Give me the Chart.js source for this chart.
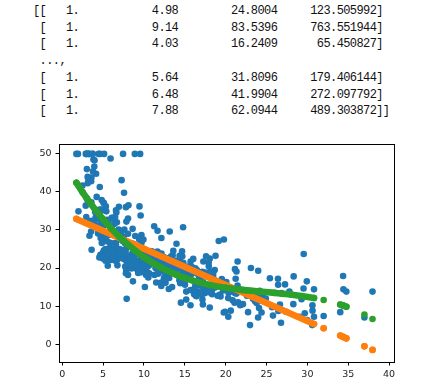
<!DOCTYPE html>
<html>
<head>
<meta charset="utf-8">
<script src="https://cdn.jsdelivr.net/npm/chart.js@4/dist/chart.umd.min.js"></script>
<style>
  body { margin: 0; background: #fff; width: 446px; height: 386px; overflow: hidden; }
  #matrix {
    position: absolute; left: 33px; top: 3px; margin: 0;
    font-family: "Liberation Mono", "DejaVu Sans Mono", monospace;
    font-size: 12px; letter-spacing: -0.6px; line-height: 16.7px; color: #111;
  }
  #wrap { position: absolute; left: 0; top: 130px; width: 446px; height: 256px; }
</style>
</head>
<body>
<pre id="matrix"></pre>
<div id="wrap"><canvas id="chart" width="446" height="256"></canvas></div>
<script>
// rows of the printed design matrix
const matrixRows = [
  ["1.", "4.98", "24.8004", "123.505992"],
  ["1.", "9.14", "83.5396", "763.551944"],
  ["1.", "4.03", "16.2409", "65.450827"],
  null,
  ["1.", "5.64", "31.8096", "179.406144"],
  ["1.", "6.48", "41.9904", "272.097792"],
  ["1.", "7.88", "62.0944", "489.303872"]
];

// lstat, medv
const housePoints = [
[4.98,24.0],[9.14,21.6],[4.03,34.7],[2.94,33.4],[5.33,36.2],[5.21,28.7],[12.43,22.9],[19.15,27.1],[29.93,16.5],[17.1,18.9],
[20.45,15.0],[13.27,18.9],[15.71,21.7],[8.26,20.4],[10.26,18.2],[8.47,19.9],[6.58,23.1],[14.67,17.5],[11.69,20.2],[11.28,18.2],
[21.02,13.6],[13.83,19.6],[18.72,15.2],[19.88,14.5],[16.3,15.6],[16.51,13.9],[14.81,16.6],[17.28,14.8],[12.8,18.4],[11.98,21.0],
[22.6,12.7],[13.04,14.5],[27.71,13.2],[18.35,13.1],[20.34,13.5],[9.68,18.9],[11.41,20.0],[8.77,21.0],[10.13,24.7],[4.32,30.8],
[1.98,34.9],[4.84,26.6],[5.81,25.3],[7.44,24.7],[9.55,21.2],[10.21,19.3],[14.15,20.0],[18.8,16.6],[30.81,14.4],[16.2,19.4],
[13.45,19.7],[9.43,20.5],[5.28,25.0],[8.43,23.4],[14.8,18.9],[4.81,35.4],[5.77,24.7],[3.95,31.6],[6.86,23.3],[9.22,19.6],
[13.15,18.7],[14.44,16.0],[6.73,22.2],[9.5,25.0],[8.05,33.0],[4.67,23.5],[10.24,19.4],[8.1,22.0],[13.09,17.4],[8.79,20.9],
[6.72,24.2],[9.88,21.7],[5.52,22.8],[7.54,23.4],[6.78,24.1],[8.94,21.4],[11.97,20.0],[10.27,20.8],[12.34,21.2],[9.1,20.3],
[5.29,28.0],[7.22,23.9],[6.72,24.8],[7.51,22.9],[9.62,23.9],[6.53,26.6],[12.86,22.5],[8.44,22.2],[5.5,23.6],[5.7,28.7],
[8.81,22.6],[8.2,22.0],[8.16,22.9],[6.21,25.0],[10.59,20.6],[6.65,28.4],[11.34,21.4],[4.21,38.7],[3.57,43.8],[6.19,33.2],
[9.42,27.5],[7.67,26.5],[10.63,18.6],[13.44,19.3],[12.33,20.1],[16.47,19.5],[18.66,19.5],[14.09,20.4],[12.27,19.8],[15.55,19.4],
[13.0,21.7],[10.16,22.8],[16.21,18.8],[17.09,18.7],[10.45,18.5],[15.76,18.3],[12.04,21.2],[10.3,19.2],[15.37,20.4],[13.61,19.3],
[14.37,22.0],[14.27,20.3],[17.93,20.5],[25.41,17.3],[17.58,18.8],[14.81,21.4],[27.26,15.7],[17.19,16.2],[15.39,18.0],[18.34,14.3],
[12.6,19.2],[12.26,19.6],[11.12,23.0],[15.03,18.4],[17.31,15.6],[16.96,18.1],[16.9,17.4],[14.59,17.1],[21.32,13.3],[18.46,17.8],
[24.16,14.0],[34.41,14.4],[26.82,13.4],[26.42,15.6],[29.29,11.8],[27.8,13.8],[16.65,15.6],[29.53,14.6],[28.32,17.8],[21.45,15.4],
[14.1,21.5],[13.28,19.6],[12.12,15.3],[15.79,19.4],[15.12,17.0],[15.02,15.6],[16.14,13.1],[4.59,41.3],[6.43,24.3],[7.39,23.3],
[5.5,27.0],[1.73,50.0],[1.92,50.0],[3.32,50.0],[11.64,22.7],[9.81,25.0],[3.7,50.0],[12.14,23.8],[11.1,23.8],[11.32,22.3],
[14.43,17.4],[12.03,19.1],[14.69,23.1],[9.04,23.6],[9.64,22.6],[5.33,29.4],[10.11,23.2],[6.29,24.6],[6.92,29.9],[5.04,37.2],
[7.56,39.8],[9.45,36.2],[4.82,37.9],[5.68,32.5],[13.98,26.4],[13.15,29.6],[4.45,50.0],[6.68,32.0],[4.56,29.8],[5.39,34.9],
[5.1,37.0],[4.69,30.5],[2.87,36.4],[5.03,31.1],[4.38,29.1],[2.97,50.0],[4.08,33.3],[8.61,30.3],[6.62,34.6],[4.56,34.9],
[4.45,32.9],[7.43,24.1],[3.11,42.3],[3.81,48.5],[2.88,50.0],[10.87,22.6],[10.97,24.4],[18.06,22.5],[14.66,24.4],[23.09,20.0],
[17.27,21.7],[23.98,19.3],[16.03,22.4],[9.38,28.1],[29.55,23.7],[9.47,25.0],[13.51,23.3],[9.69,28.7],[17.92,21.5],[10.5,23.0],
[9.71,26.7],[21.46,21.7],[9.93,27.5],[7.6,30.1],[4.14,44.8],[4.63,50.0],[3.13,37.6],[6.36,31.6],[3.92,46.7],[3.76,31.5],
[11.65,24.3],[5.25,31.7],[2.47,41.7],[3.95,48.3],[8.05,29.0],[10.88,24.0],[9.54,25.1],[4.73,31.5],[6.36,23.7],[7.37,23.3],
[11.38,22.0],[12.4,20.1],[11.22,22.2],[5.19,23.7],[12.5,17.6],[18.46,18.5],[9.16,24.3],[10.15,20.5],[9.52,24.5],[6.56,26.2],
[5.9,24.4],[3.59,24.8],[3.53,29.6],[3.54,42.8],[6.57,21.9],[9.25,20.9],[3.11,44.0],[5.12,50.0],[7.79,36.0],[6.9,30.1],
[9.59,33.8],[7.26,43.1],[5.91,48.8],[11.25,31.0],[8.1,36.5],[10.45,22.8],[14.79,30.7],[7.44,50.0],[3.16,43.5],[13.65,20.7],
[13.0,21.1],[6.59,25.2],[7.73,24.4],[6.58,35.2],[3.53,32.4],[2.98,32.0],[6.05,33.2],[4.16,33.1],[7.19,29.1],[4.85,35.1],
[3.76,45.4],[4.59,35.4],[3.01,46.0],[3.16,50.0],[7.85,32.2],[8.23,22.0],[12.93,20.1],[7.14,23.2],[7.6,22.3],[9.51,24.8],
[3.33,28.5],[3.56,37.3],[4.7,27.9],[8.58,23.9],[10.4,21.7],[6.27,28.6],[7.39,27.1],[15.84,20.3],[4.97,22.5],[4.74,29.0],
[6.07,24.8],[9.5,22.0],[8.67,26.4],[4.86,33.1],[6.93,36.1],[8.93,28.4],[6.47,33.4],[7.53,28.2],[4.54,22.8],[9.97,20.3],
[12.64,16.1],[5.98,22.1],[11.72,19.4],[7.9,21.6],[9.28,23.8],[11.5,16.2],[18.33,17.8],[15.94,19.8],[10.36,23.1],[12.73,21.0],
[7.2,23.8],[6.87,23.1],[7.7,20.4],[11.74,18.5],[6.12,25.0],[5.08,24.6],[6.15,23.0],[12.79,22.2],[9.97,19.3],[7.34,22.6],
[9.09,19.8],[12.43,17.1],[7.83,19.4],[5.68,22.2],[6.75,20.7],[8.01,21.1],[9.8,19.5],[10.56,18.5],[8.51,20.6],[9.74,19.0],
[9.29,18.7],[5.49,32.7],[8.65,16.5],[7.18,23.9],[4.61,31.2],[10.53,17.5],[12.67,17.2],[6.36,23.1],[5.99,24.5],[5.89,26.6],
[5.98,22.9],[5.49,24.1],[7.79,18.6],[4.5,30.1],[8.05,18.2],[5.57,20.6],[17.6,17.8],[13.27,21.7],[11.48,22.7],[12.67,22.6],
[7.79,25.0],[14.19,19.9],[10.19,20.8],[14.64,16.8],[5.29,21.9],[7.12,27.5],[14.0,21.9],[13.33,23.1],[3.26,50.0],[3.73,50.0],
[2.96,50.0],[9.53,50.0],[8.88,50.0],[34.77,13.8],[37.97,13.8],[13.44,15.0],[23.24,13.9],[21.24,13.3],[23.69,13.1],[21.78,10.2],
[17.21,10.4],[21.08,10.9],[23.6,11.3],[24.56,12.3],[30.63,8.8],[30.81,7.2],[28.28,10.5],[31.99,7.4],[30.62,10.2],[20.85,11.5],
[17.11,15.1],[18.76,23.2],[25.68,9.7],[15.17,13.8],[16.35,12.7],[17.12,13.1],[19.37,12.5],[19.92,8.5],[30.59,5.0],[29.97,6.3],
[26.77,5.6],[20.32,7.2],[20.31,12.1],[19.77,8.3],[27.38,8.5],[22.98,5.0],[23.34,11.9],[12.13,27.9],[26.4,17.2],[19.78,27.5],
[10.11,15.0],[21.22,17.2],[34.37,17.9],[20.08,16.3],[36.98,7.0],[29.05,7.2],[25.79,7.5],[26.64,10.4],[20.62,8.8],[22.74,8.4],
[15.02,16.7],[15.7,14.2],[14.1,20.8],[23.29,13.4],[17.16,11.7],[24.39,8.3],[15.69,10.2],[14.52,10.9],[21.52,11.0],[24.08,9.5],
[17.64,14.5],[19.69,14.1],[12.03,16.1],[16.22,14.3],[15.17,11.7],[23.27,13.4],[18.05,9.6],[26.45,8.7],[34.02,8.4],[22.88,12.8],
[22.11,10.5],[19.52,17.1],[16.59,18.4],[18.85,15.4],[23.79,10.8],[23.98,11.8],[17.79,14.9],[16.44,12.6],[18.13,14.1],[19.31,13.0],
[17.44,13.4],[17.73,15.2],[17.27,16.1],[16.74,17.8],[18.71,14.9],[18.13,14.1],[19.01,12.7],[16.94,13.5],[16.23,14.9],[14.7,20.0],
[16.42,16.4],[14.65,17.7],[13.99,19.5],[10.29,20.2],[13.22,21.4],[14.13,19.9],[17.15,19.0],[21.32,19.1],[18.13,19.1],[14.76,20.1],
[16.29,19.9],[12.87,19.6],[14.36,23.2],[11.66,29.8],[18.14,13.8],[24.1,13.3],[18.68,16.7],[24.91,12.0],[18.03,14.6],[13.11,21.4],
[10.74,23.0],[7.74,23.7],[7.01,25.0],[10.42,21.8],[13.34,20.6],[10.58,21.2],[14.98,19.1],[11.45,20.6],[18.06,15.2],[23.97,7.0],
[29.68,8.1],[18.07,13.6],[13.35,20.1],[12.01,21.8],[13.59,24.5],[17.6,23.1],[21.14,19.7],[14.1,18.3],[12.92,21.2],[15.1,17.5],
[14.33,16.8],[9.67,22.4],[9.08,20.6],[5.64,23.9],[6.48,22.0],[7.88,11.9]
];

// straight-line fit (null = gap between runs)
const linearFit = [
  [1.73, 32.91], [10, 25.05], [20, 15.55], [30.81, 5.28], [31.4, null],
  [31.99, 4.16], [33.0, null],
  [34.02, 2.24], [34.37, 1.90], [34.41, 1.86], [34.77, 1.52], [35.9, null],
  [36.98, -0.58], [37.5, null],
  [37.97, -1.52]
];

// cubic fit
const cubicFit = [
  [1.73, 42.40], [2.5, 39.88], [3, 38.34], [4, 35.44], [5, 32.79], [6, 30.38], [7, 28.19],
  [8, 26.22], [9, 24.45], [10, 22.86], [12, 20.22], [14, 18.19], [16, 16.67], [18, 15.57],
  [20, 14.80], [22, 14.26], [24, 13.85], [26, 13.47], [28, 13.03], [30.81, 12.13], [31.4, null],
  [31.99, 11.61], [33.0, null],
  [34.02, 10.39], [34.37, 10.14], [34.41, 10.11], [34.77, 9.83], [35.9, null],
  [36.98, 7.77], [37.5, null],
  [37.97, 6.62]
];

const xTicks = [0, 5, 10, 15, 20, 25, 30, 35, 40];
const yTicks = [0, 10, 20, 30, 40, 50];

function padTo(s, width) {
  return " ".repeat(Math.max(0, width - s.length)) + s;
}

function drawMatrix() {
  const lines = matrixRows.map((row, i) => {
    if (!row) return " ...,";
    const open = i === 0 ? "[[" : " [";
    const close = i === matrixRows.length - 1 ? "]]" : "]";
    return open + "   " + row[0] + padTo(row[1], 15) + padTo(row[2], 15) + padTo(row[3], 15) + close;
  });
  document.getElementById("matrix").textContent = lines.join("\n");
}

const toXY = arr => arr.map(p => ({ x: p[0], y: p[1] }));

const frame = {
  id: "frame",
  afterDraw(chart) {
    const a = chart.chartArea;
    const ctx = chart.ctx;
    ctx.save();
    ctx.strokeStyle = "#000";
    ctx.lineWidth = 1;
    ctx.strokeRect(Math.round(a.left) + 0.5, Math.round(a.top) + 0.5,
      Math.round(a.right - a.left), Math.round(a.bottom - a.top));
    ctx.restore();
  }
};

function loadChart() {
  const tickFont = { family: "DejaVu Sans", size: 9.5 };

  new Chart(document.getElementById("chart"), {
    type: "scatter",
    data: {
      datasets: [
        {
          data: toXY(cubicFit),
          showLine: true,
          spanGaps: false,
          borderColor: "#2ca02c",
          backgroundColor: "#2ca02c",
          borderWidth: 6.6,
          borderCapStyle: "round",
          borderJoinStyle: "round",
          cubicInterpolationMode: "monotone",
          pointRadius: 3.3,
          pointBorderWidth: 0,
          order: 0
        },
        {
          data: toXY(linearFit),
          showLine: true,
          spanGaps: false,
          borderColor: "#ff7f0e",
          backgroundColor: "#ff7f0e",
          borderWidth: 6.6,
          borderCapStyle: "round",
          pointRadius: 3.3,
          pointBorderWidth: 0,
          order: 1
        },
        {
          data: toXY(housePoints),
          backgroundColor: "#1f77b4",
          pointRadius: 3.3,
          pointBorderWidth: 0,
          order: 2
        }
      ]
    },
    options: {
      responsive: false,
      animation: false,
      events: [],
      layout: { padding: { top: 14, right: 52, left: 0, bottom: 0 } },
      plugins: { legend: { display: false }, tooltip: { enabled: false } },
      scales: {
        x: {
          type: "linear",
          min: -0.4,
          max: 40.6,
          afterBuildTicks: s => { s.ticks = xTicks.map(v => ({ value: v })); },
          afterFit: s => { s.height = 24; },
          grid: { drawOnChartArea: false, drawTicks: true, tickLength: 3.5, color: "#000" },
          border: { display: false },
          ticks: { font: tickFont, color: "#222", padding: 3, maxRotation: 0 }
        },
        y: {
          type: "linear",
          min: -4.7,
          max: 52.6,
          afterBuildTicks: s => { s.ticks = yTicks.map(v => ({ value: v })); },
          afterFit: s => { s.width = 59; },
          grid: { drawOnChartArea: false, drawTicks: true, tickLength: 3.5, color: "#000" },
          border: { display: false },
          ticks: { font: tickFont, color: "#222", padding: 4 }
        }
      }
    },
    plugins: [frame]
  });
}

drawMatrix();
loadChart();
</script>
</body>
</html>
